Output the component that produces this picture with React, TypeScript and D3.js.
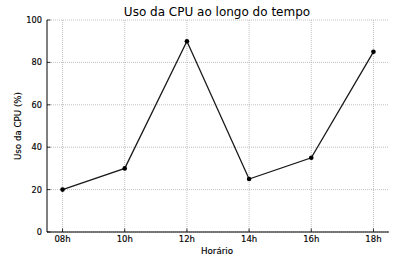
import React from "react";
import * as d3 from "d3";

const categories = ["08h", "10h", "12h", "14h", "16h", "18h"];
const cpuValues = [20, 30, 90, 25, 35, 85];
const yTicks = [0, 20, 40, 60, 80, 100];

const W = 402;
const H = 265;
const left = 47;
const right = 389;
const top = 20;
const bottom = 232;
const font = "DejaVu Sans, sans-serif";

export default function App() {
  const x = d3.scaleLinear().domain([-0.25, categories.length - 1 + 0.25]).range([left, right]);
  const y = d3.scaleLinear().domain([0, 100]).range([bottom, top]);
  const line = d3
    .line<number>()
    .x((_, i) => x(i))
    .y((d) => y(d));

  return (
    <svg
      width={W}
      height={H}
      style={{ position: "absolute", left: 0, top: 0, background: "#fff" }}
    >
      <rect x={0} y={0} width={W} height={H} fill="#fff" />
      {/* grid */}
      {yTicks.map((t) => (
        <line
          key={"gy" + t}
          x1={left}
          x2={right}
          y1={y(t)}
          y2={y(t)}
          stroke="#b0b0b0"
          strokeWidth={0.8}
          strokeDasharray="1,1"
        />
      ))}
      {categories.map((c, i) => (
        <line
          key={"gx" + c}
          x1={x(i)}
          x2={x(i)}
          y1={top}
          y2={bottom}
          stroke="#b0b0b0"
          strokeWidth={0.8}
          strokeDasharray="1,1"
        />
      ))}
      {/* spines */}
      <line x1={left} x2={left} y1={top} y2={bottom} stroke="#000" strokeWidth={1} />
      <line x1={left} x2={right} y1={bottom} y2={bottom} stroke="#000" strokeWidth={1} />
      {/* y ticks */}
      {yTicks.map((t) => (
        <g key={"ty" + t}>
          <line x1={left} x2={left + 3.5} y1={y(t)} y2={y(t)} stroke="#000" strokeWidth={0.8} />
          <text
            x={left - 5}
            y={y(t)}
            textAnchor="end"
            dominantBaseline="central"
            fontFamily={font}
            fontSize={8.2}
            fill="#000"
            stroke="#000"
            strokeWidth={0.15}
          >
            {t}
          </text>
        </g>
      ))}
      {/* x ticks */}
      {categories.map((c, i) => (
        <g key={"tx" + c}>
          <line x1={x(i)} x2={x(i)} y1={bottom} y2={bottom - 3.5} stroke="#000" strokeWidth={0.8} />
          <text
            x={x(i)}
            y={bottom + 10}
            textAnchor="middle"
            fontFamily={font}
            fontSize={8.5}
            fill="#000"
            stroke="#000"
            strokeWidth={0.15}
          >
            {c}
          </text>
        </g>
      ))}
      {/* line */}
      <path d={line(cpuValues) || ""} fill="none" stroke="#1a1a1a" strokeWidth={1.3} />
      {cpuValues.map((v, i) => (
        <circle key={"p" + i} cx={x(i)} cy={y(v)} r={2.3} fill="#000" />
      ))}
      {/* labels */}
      <text
        x={217}
        y={16}
        textAnchor="middle"
        fontFamily={font}
        fontSize={12}
        fill="#000"
      >
        Uso da CPU ao longo do tempo
      </text>
      <text
        x={217}
        y={254}
        textAnchor="middle"
        fontFamily={font}
        fontSize={8.7}
        fill="#000"
        stroke="#000"
        strokeWidth={0.15}
      >
        Horário
      </text>
      <text
        transform={`translate(21, ${(90 + 162) / 2}) rotate(-90)`}
        textAnchor="middle"
        fontFamily={font}
        fontSize={8.7}
        fill="#000"
        stroke="#000"
        strokeWidth={0.15}
      >
        Uso da CPU (%)
      </text>
    </svg>
  );
}
